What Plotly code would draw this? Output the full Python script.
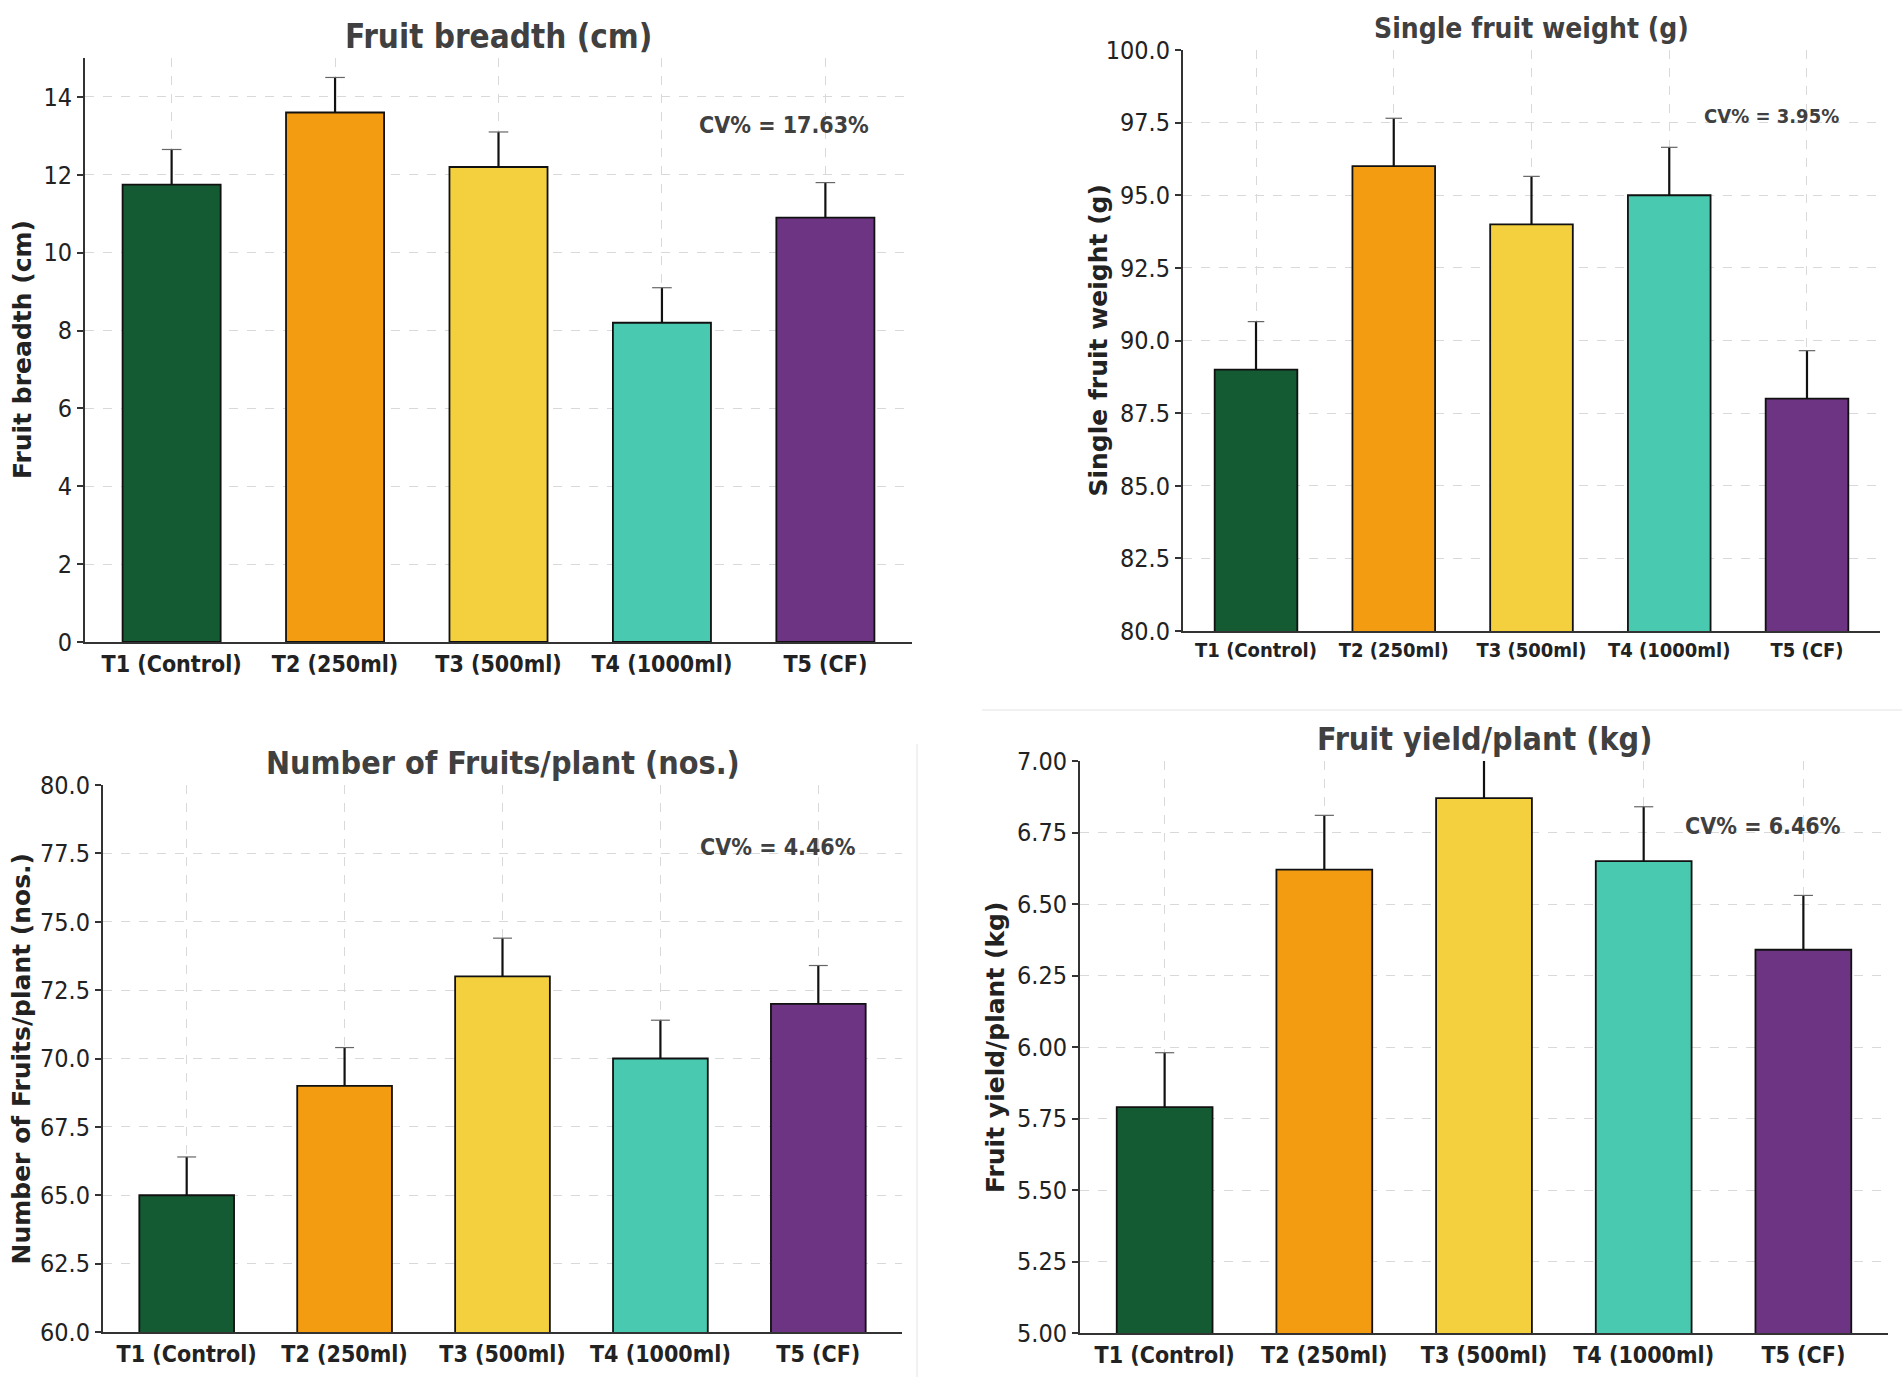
import plotly.graph_objects as go

W, H = 1902, 1377

treatments = ["T1 (Control)", "T2 (250ml)", "T3 (500ml)", "T4 (1000ml)", "T5 (CF)"]
bar_colors = ["#145A32", "#F39C12", "#F4D03F", "#48C9B0", "#6C3483"]

breadth = [11.75, 13.6, 12.2, 8.2, 10.9]
breadth_err = [0.9, 0.9, 0.9, 0.9, 0.9]

weight = [89.0, 96.0, 94.0, 95.0, 88.0]
weight_err = [1.65, 1.65, 1.65, 1.65, 1.65]

fruits = [65.0, 69.0, 73.0, 70.0, 72.0]
fruits_err = [1.4, 1.4, 1.4, 1.4, 1.4]

yield_kg = [5.79, 6.62, 6.87, 6.65, 6.34]
yield_err = [0.19, 0.19, 0.19, 0.19, 0.19]

panels = [
    dict(title="Fruit breadth (cm)", ytitle="Fruit breadth (cm)", vals=breadth, err=breadth_err,
         yrange=[0, 15], dtick=2, tickformat="d", cv="CV% = 17.63%",
         px=(85, 912), py=(58, 642), ytx=22, tsize=33, cvsize=23, xtsize=23),
    dict(title="Single fruit weight (g)", ytitle="Single fruit weight (g)", vals=weight, err=weight_err,
         yrange=[80, 100], dtick=2.5, tickformat=".1f", cv="CV% = 3.95%",
         px=(1183, 1880), py=(50, 631), ytx=1098, tsize=28, cvsize=20, xtsize=20),
    dict(title="Number of Fruits/plant (nos.)", ytitle="Number of Fruits/plant (nos.)", vals=fruits, err=fruits_err,
         yrange=[60, 80], dtick=2.5, tickformat=".1f", cv="CV% = 4.46%",
         px=(103, 902), py=(785, 1332), ytx=21, tsize=32, cvsize=23, xtsize=23),
    dict(title="Fruit yield/plant (kg)", ytitle="Fruit yield/plant (kg)", vals=yield_kg, err=yield_err,
         yrange=[5, 7], dtick=0.25, tickformat=".2f", cv="CV% = 6.46%",
         px=(1080, 1888), py=(761, 1333), ytx=995, tsize=32, cvsize=23, xtsize=23),
]

FONT = "DejaVu Sans"
COND = "DejaVu Sans Condensed, DejaVu Sans"
CAP = 0.06
fig = go.Figure()
layout = dict(
    template="none",
    width=W, height=H, margin=dict(l=0, r=0, t=0, b=0, pad=0), autosize=False,
    paper_bgcolor="white", plot_bgcolor="white", showlegend=False,
    font=dict(family=FONT, color="#222222"),
    annotations=[], shapes=[],
)

for i, p in enumerate(panels):
    n = "" if i == 0 else str(i + 1)
    xa, ya = "x" + n, "y" + n
    xs = list(range(len(treatments)))
    fig.add_trace(go.Bar(
        x=xs, y=p["vals"], width=0.6,
        marker=dict(color=bar_colors, line=dict(color="#111111", width=1.8)),
        xaxis=xa, yaxis=ya, hoverinfo="skip",
    ))
    # upper error bars (stem) and caps built from the data arrays
    sx, sy, cx, cy = [], [], [], []
    for xi, v, e in zip(xs, p["vals"], p["err"]):
        sx += [xi, xi, None]
        sy += [v, v + e, None]
        cx += [xi - CAP, xi + CAP, None]
        cy += [v + e, v + e, None]
    fig.add_trace(go.Scatter(x=sx, y=sy, mode="lines", line=dict(color="#111111", width=2.2),
                             xaxis=xa, yaxis=ya, hoverinfo="skip"))
    fig.add_trace(go.Scatter(x=cx, y=cy, mode="lines", line=dict(color="#666666", width=1.2),
                             xaxis=xa, yaxis=ya, hoverinfo="skip"))
    x0, x1 = p["px"][0] / W, p["px"][1] / W
    y1, y0 = 1 - p["py"][0] / H, 1 - p["py"][1] / H
    layout["xaxis" + n] = dict(
        domain=[x0, x1], anchor=ya, range=[-0.53, 4.53], automargin=False,
        tickmode="array", tickvals=xs, ticktext=treatments,
        tickfont=dict(family=COND, size=p["xtsize"], color="#222222", weight="bold"),
        showline=True, linecolor="#333333", linewidth=2,
        showgrid=True, gridcolor="#d9d9d9", griddash="dash", gridwidth=1,
        ticks="", zeroline=False, fixedrange=True,
    )
    layout["yaxis" + n] = dict(
        domain=[y0, y1], anchor=xa, range=p["yrange"], dtick=p["dtick"], tick0=p["yrange"][0],
        tickformat=p["tickformat"], automargin=False,
        tickfont=dict(family=COND, size=25, color="#222222"),
        showline=True, linecolor="#333333", linewidth=2,
        showgrid=True, gridcolor="#d9d9d9", griddash="dash", gridwidth=1,
        ticks="outside", ticklen=6, tickcolor="#333333", tickwidth=1.5,
        zeroline=False, fixedrange=True,
    )
    layout["annotations"].append(dict(
        text="<b>" + p["title"] + "</b>", xref="paper", yref="paper",
        x=(x0 + x1) / 2, y=y1 + 22 / H, xanchor="center", yanchor="middle",
        showarrow=False, font=dict(family=COND, size=p["tsize"], color="#404040")))
    layout["annotations"].append(dict(
        text="<b>" + p["ytitle"] + "</b>", xref="paper", yref="paper",
        x=p["ytx"] / W, y=(y0 + y1) / 2, xanchor="center", yanchor="middle", textangle=-90,
        showarrow=False, font=dict(family=FONT, size=25, color="#222222")))
    layout["annotations"].append(dict(
        text="<b>" + p["cv"] + "</b>", xref=xa + " domain", yref=ya + " domain",
        x=0.845, y=0.886, xanchor="center", yanchor="middle",
        showarrow=False, font=dict(family=COND, size=p["cvsize"], color="#404040")))

layout["shapes"].append(dict(type="line", xref="paper", yref="paper",
                             x0=917 / W, x1=917 / W, y0=0, y1=1 - 744 / H,
                             line=dict(color="#ececec", width=1.5)))
layout["shapes"].append(dict(type="line", xref="paper", yref="paper",
                             x0=982 / W, x1=1, y0=1 - 710 / H, y1=1 - 710 / H,
                             line=dict(color="#ececec", width=1.5)))

fig.update_layout(**layout)
fig.write_html("out.html", config={"displayModeBar": False},
               post_script="document.body.style.margin='0';document.body.style.overflow='hidden';")
